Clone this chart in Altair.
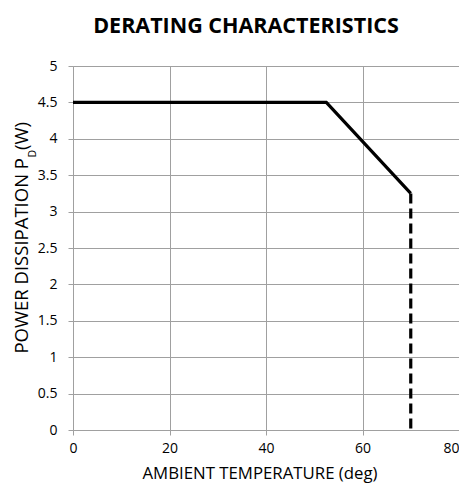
import altair as alt
import pandas as pd

# Data
temp_solid = [0, 52.5, 70]
power_solid = [4.5, 4.5, 3.25]
temp_dash = [70, 70]
power_dash = [3.25, 0]

x_ticks = [0, 20, 40, 60, 80]
y_ticks = [0, 0.5, 1, 1.5, 2, 2.5, 3, 3.5, 4, 4.5, 5]

title_text = "DERATING CHARACTERISTICS"
x_title = "AMBIENT TEMPERATURE (deg)"
y_title_main = "POWER DISSIPATION  P"
y_title_sub = "D"
y_title_tail = "(W)"

FONT = "Open Sans"
GRID = "#A0A0A0"

solid_df = pd.DataFrame({"t": temp_solid, "p": power_solid})
dash_df = pd.DataFrame({"t": temp_dash, "p": power_dash})

x_enc = alt.X("t:Q", scale=alt.Scale(domain=[0, 80], nice=False),
              axis=alt.Axis(values=x_ticks, title=x_title, grid=True,
                            labelAlign={"condition": {"test": "datum.value == 80", "value": "right"},
                                        "value": "center"}))
y_enc = alt.Y("p:Q", scale=alt.Scale(domain=[0, 5], nice=False),
              axis=alt.Axis(values=y_ticks, title=None, grid=True, format="~g"))

solid = alt.Chart(solid_df).mark_line(color="black", strokeWidth=3.2,
                                      strokeJoin="miter").encode(x=x_enc, y=y_enc)
dashed = alt.Chart(dash_df).mark_line(color="black", strokeWidth=3.2,
                                      strokeDash=[10, 5]).encode(x=x_enc, y=y_enc)

ytitle_df = pd.DataFrame({"a": [y_title_main], "b": [y_title_sub], "c": [y_title_tail]})
t_main = alt.Chart(ytitle_df).mark_text(angle=270, align="right", baseline="middle",
                                        font=FONT, fontSize=18.5, color="black").encode(
    text="a:N", x=alt.value(-51), y=alt.value(92))
t_sub = alt.Chart(ytitle_df).mark_text(angle=270, align="left", baseline="middle",
                                       font=FONT, fontSize=10.5, color="black").encode(
    text="b:N", x=alt.value(-40.5), y=alt.value(91.5))
t_tail = alt.Chart(ytitle_df).mark_text(angle=270, align="left", baseline="middle",
                                        font=FONT, fontSize=18.5, color="black").encode(
    text="c:N", x=alt.value(-51), y=alt.value(84))

chart = alt.layer(solid, dashed, t_main, t_sub, t_tail).properties(
    width=386, height=364,
    autosize=alt.AutoSizeParams(type="none"),
    padding={"left": 65, "top": 58, "right": 0, "bottom": 53},
    title=alt.TitleParams(title_text, font=FONT, fontSize=21.5, fontWeight="bold",
                          color="black", anchor="middle", frame="group",
                          baseline="alphabetic", offset=5, dx=-20),
).configure_axis(
    gridColor=GRID, gridWidth=1, domainColor=GRID, domainWidth=1,
    tickColor=GRID, tickSize=5, tickWidth=1,
    labelFont=FONT, labelFontSize=14, labelColor="black",
    titleFont=FONT, titleFontSize=16.8, titleFontWeight="normal", titleColor="black",
).configure_axisX(labelPadding=6, labelFlush=False,
                  titleX=186.5, titleY=48, titleBaseline="alphabetic", titleAnchor="middle"
).configure_axisY(labelPadding=11
).configure_view(stroke=None)

chart.save("out.html", embed_options={"renderer": "svg", "actions": False})
